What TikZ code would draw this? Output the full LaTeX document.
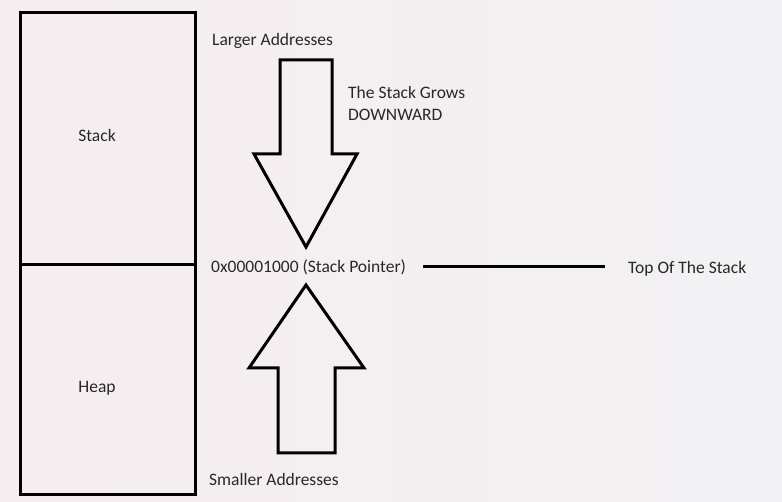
\documentclass[tikz,border=0pt]{standalone}
\usepackage{fontspec}
\setmainfont{Carlito}
\usepackage{xcolor}
\usetikzlibrary{positioning}
\definecolor{bgleft}{RGB}{245,237,239}
\definecolor{bgright}{RGB}{242,241,243}
\definecolor{ink}{RGB}{40,40,40}
\tikzset{
  memcell/.style={draw, line width=3pt, minimum width=175pt, inner sep=0pt, outer sep=0pt},
  lbl/.style={inner sep=0pt, text=ink, font=\fontsize{17.5}{22}\selectfont},
  fatarrow/.style={draw, line width=3pt, line join=miter}
}

\begin{document}
\begin{tikzpicture}[x=1pt,y=-1pt]
\shade[left color=bgleft, right color=bgright] (0,0) rectangle (782,502);
\useasboundingbox (0,0) rectangle (782,502);
% memory column
\node[memcell, minimum height=252pt] (stack) at (107.5,139) {};
\node[memcell, minimum height=229pt, below=0pt of stack] (heap) {};
\node[lbl] (stacktxt) at (97,135) {Stack};
\node[lbl] (heaptxt) at (97,388) {Heap};
% labels
\node[lbl, anchor=west] (large) at (212,41) {Larger Addresses};
\node[lbl, anchor=west, align=left] (grows) at (348,103) {The Stack Grows\\DOWNWARD};
\node[lbl, anchor=west] (sp) at (211,267) {0x00001000 (Stack Pointer)};
\node[lbl, anchor=west] (small) at (209,479) {Smaller Addresses};
\node[lbl, anchor=west] (top) at (628,269) {Top Of The Stack};
% arrows
\coordinate (dtip) at (306,247);
\coordinate (utip) at (306,285);
\draw[fatarrow] (dtip) -- ++(-52,-93) -- ++(26,0) -- ++(0,-94) -- ++(52,0) -- ++(0,94) -- ++(25,0) -- cycle;
\draw[fatarrow] (utip) -- ++(-57,83) -- ++(29,0) -- ++(0,85) -- ++(57,0) -- ++(0,-85) -- ++(29,0) -- cycle;
\draw[line width=3pt, shorten <=17pt, shorten >=23pt] (sp.east) -- (sp.east -| top.west);
\end{tikzpicture}
\end{document}
